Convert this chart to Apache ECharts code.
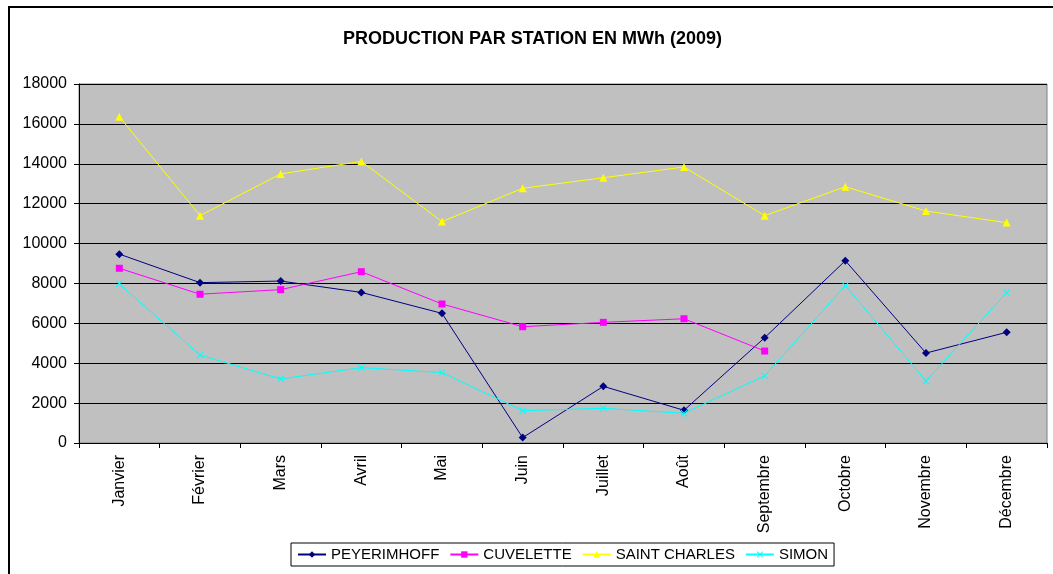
<!DOCTYPE html>
<html>
<head>
<meta charset="utf-8">
<script src="https://cdn.jsdelivr.net/npm/echarts@6/dist/echarts.min.js"></script>
<style>
html,body{margin:0;padding:0;background:#fff;}
#chart{width:1053px;height:574px;}
</style>
</head>
<body>
<div id="chart"></div>
<script>
const categories = ['Janvier','Février','Mars','Avril','Mai','Juin','Juillet','Août','Septembre','Octobre','Novembre','Décembre'];
const peyerimhoff = [9470, 8040, 8120, 7550, 6500, 270, 2840, 1640, 5280, 9140, 4510, 5550];
const cuvelette = [8760, 7460, 7690, 8590, 6970, 5830, 6050, 6230, 4610, null, null, null];
const saintCharles = [16360, 11400, 13490, 14120, 11100, 12770, 13300, 13840, 11400, 12850, 11630, 11050];
const simon = [7970, 4410, 3210, 3780, 3530, 1620, 1740, 1490, 3370, 7890, 3110, 7540];
const yTicks = {min: 0, max: 18000, interval: 2000};

const FONT = '"Liberation Sans", Arial, sans-serif';
const xPath = 'path://M0,1 L1,0 L5,4 L9,0 L10,1 L6,5 L10,9 L9,10 L5,6 L1,10 L0,9 L4,5 Z';

const chart = echarts.init(document.getElementById('chart'), null, {renderer: 'canvas'});
function mk(name, data, color, symbol, size) {
  return {
    name: name, type: 'line', data: data,
    symbol: symbol, symbolSize: size, showSymbol: true,
    connectNulls: false,
    lineStyle: {color: color, width: 1},
    itemStyle: {color: color},
    emphasis: {disabled: true},
    animation: false
  };
}
chart.setOption({
  animation: false,
  backgroundColor: '#ffffff',
  textStyle: {fontFamily: FONT},
  graphic: [{
    type: 'rect', shape: {x: 9, y: 7, width: 1100, height: 600},
    style: {fill: 'none', stroke: '#000', lineWidth: 2}, silent: true, z: 100
  }],
  title: {
    text: 'PRODUCTION PAR STATION EN MWh (2009)',
    left: 338, top: 25,
    textStyle: {fontFamily: FONT, fontSize: 18, fontWeight: 'bold', color: '#000'}
  },
  legend: {
    left: 291, top: 543,
    borderColor: '#000', borderWidth: 1, padding: [4, 6, 4, 6],
    itemGap: 10, itemWidth: 28, itemHeight: 8,
    textStyle: {fontFamily: FONT, fontSize: 15, color: '#000'},
    data: ['PEYERIMHOFF','CUVELETTE','SAINT CHARLES','SIMON']
  },
  grid: {
    left: 79, right: 6, top: 84, bottom: 131,
    show: true, backgroundColor: '#C0C0C0', borderColor: '#808080', borderWidth: 1
  },
  xAxis: {
    type: 'category', data: categories, boundaryGap: true,
    axisLine: {lineStyle: {color: '#000', width: 1}},
    axisTick: {show: true, interval: 0, length: 5, lineStyle: {color: '#000'}},
    axisLabel: {rotate: 90, interval: 0, fontSize: 16, color: '#000', fontFamily: FONT, margin: 12}
  },
  yAxis: {
    type: 'value', min: yTicks.min, max: yTicks.max, interval: yTicks.interval,
    axisLine: {show: true, lineStyle: {color: '#000', width: 1}},
    axisTick: {show: true, length: 5, lineStyle: {color: '#000'}},
    axisLabel: {fontSize: 16, color: '#000', fontFamily: FONT, margin: 12, formatter: function (v) { return String(v); }},
    splitLine: {show: true, lineStyle: {color: '#000', width: 1}}
  },
  series: [
    mk('PEYERIMHOFF', peyerimhoff, '#000080', 'diamond', 8),
    mk('CUVELETTE', cuvelette, '#FF00FF', 'rect', 7),
    mk('SAINT CHARLES', saintCharles, '#FFFF00', 'triangle', 8),
    mk('SIMON', simon, '#00FFFF', xPath, 7)
  ]
});
</script>
</body>
</html>
